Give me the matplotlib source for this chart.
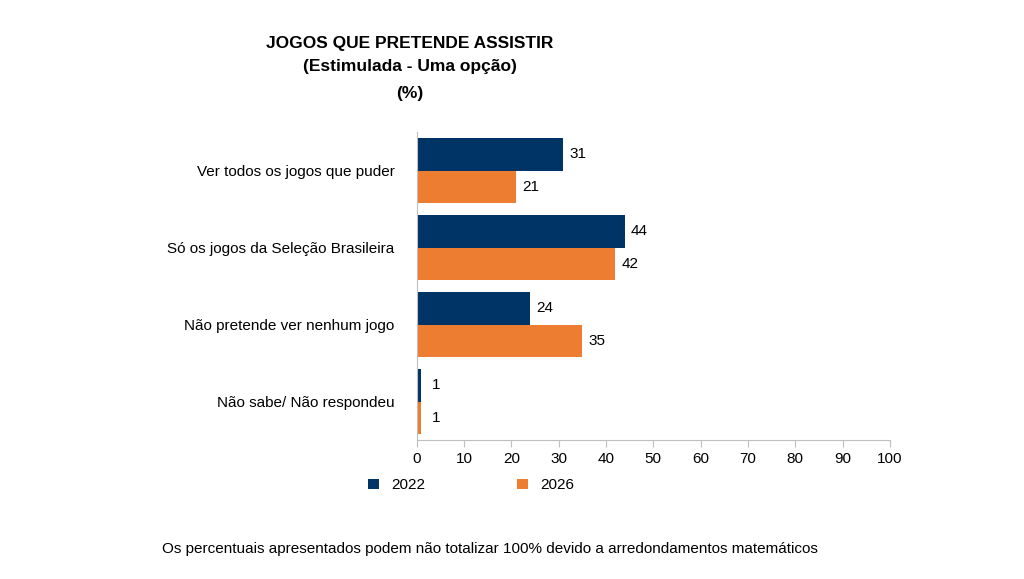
import matplotlib
matplotlib.use("Agg")
import matplotlib.pyplot as plt
import numpy as np

plt.rcParams['font.family'] = ['Liberation Sans', 'DejaVu Sans']

categories = ["Ver todos os jogos que puder", "Só os jogos da Seleção Brasileira",
              "Não pretende ver nenhum jogo", "Não sabe/ Não respondeu"]
v2022 = [31, 44, 24, 1]
v2026 = [21, 42, 35, 1]
xticks = [0, 10, 20, 30, 40, 50, 60, 70, 80, 90, 100]

navy = "#003366"
orange = "#ED7D31"

fig = plt.figure(figsize=(10.24, 5.79), dpi=100)
ax = fig.add_axes([0.407, 0.240, 0.462, 0.532])
y = np.arange(len(categories))
h = 0.42
b1 = ax.barh(y - h/2, v2022, height=h, color=navy, label="2022")
b2 = ax.barh(y + h/2, v2026, height=h, color=orange, label="2026")
for bars in (b1, b2):
    for r in bars:
        ax.text(r.get_width() + 3, r.get_y() + r.get_height()/2, f"{int(r.get_width())}",
                va="center", ha="center", fontsize=11)
ax.set_ylim(len(categories) - 0.5, -0.5)
ax.set_xlim(0, 100)
ax.set_xticks(xticks)
ax.set_yticks(y)
ax.set_yticklabels(categories, fontsize=11)
ax.tick_params(axis='y', length=0, pad=16)
ax.tick_params(axis='x', labelsize=11, color="#bfbfbf", length=5)
for s in ["top", "right"]:
    ax.spines[s].set_visible(False)
for s in ["left", "bottom"]:
    ax.spines[s].set_color("#bfbfbf")

fig.text(0.40, 0.925, "JOGOS QUE PRETENDE ASSISTIR", ha="center", va="center", fontsize=12.5, fontweight="bold")
fig.text(0.40, 0.885, "(Estimulada - Uma opção)", ha="center", va="center", fontsize=12.5, fontweight="bold")
fig.text(0.40, 0.838, "(%)", ha="center", va="center", fontsize=12.5, fontweight="bold")

fig.legend(handles=[b1, b2], labels=["2022", "2026"], loc="center", bbox_to_anchor=(0.46, 0.162),
           ncol=2, frameon=False, fontsize=11, handlelength=0.7, handleheight=0.7, columnspacing=6)
fig.text(0.478, 0.052, "Os percentuais apresentados podem não totalizar 100% devido a arredondamentos matemáticos",
         ha="center", va="center", fontsize=11)
fig.savefig("out.png", dpi=100)
